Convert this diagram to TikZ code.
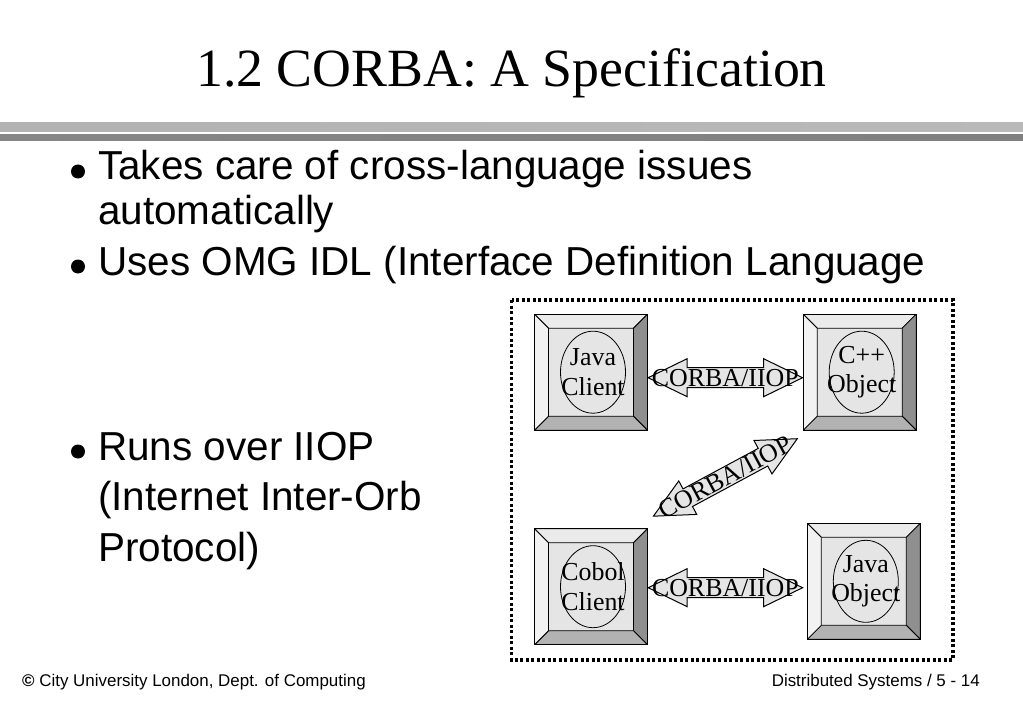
\documentclass[tikz,border=0pt]{standalone}
\usepackage{fontspec}
\setmainfont{Liberation Serif}
\setsansfont{Liberation Sans}
\usetikzlibrary{calc,shapes.geometric}
\definecolor{boxin}{gray}{0.9}
\definecolor{bevtop}{gray}{0.92}
\definecolor{bevleft}{gray}{0.95}
\definecolor{bevright}{gray}{0.56}
\definecolor{bevbot}{gray}{0.7}
\begin{document}
\begin{tikzpicture}[x=1bp,y=-1bp,
    title/.style={anchor=base,inner sep=0pt,font=\fontsize{54}{60}\selectfont},
    bullet/.style={circle,fill=black,inner sep=0pt,minimum size=14bp},
    point/.style={anchor=base west,inner sep=0pt,font=\sffamily\fontsize{40.6}{44}\selectfont},
    footer/.style={inner sep=0pt,font=\sffamily\fontsize{17}{20}\selectfont},
    frame/.style={line width=3.5bp,dash pattern=on 3bp off 2.5bp},
    bevel/.style={draw,fill=boxin,line width=.8bp,inner sep=0pt,minimum width=113bp,minimum height=116bp,
        path picture={
            \coordinate (p1) at (path picture bounding box.north west);
            \coordinate (p2) at (path picture bounding box.north east);
            \coordinate (p3) at (path picture bounding box.south east);
            \coordinate (p4) at (path picture bounding box.south west);
            \filldraw[fill=bevtop] (p1) -- (p2) -- ++(-14bp,-14bp) -- ($(p1)+(14bp,-14bp)$) -- cycle;
            \filldraw[fill=bevright] (p2) -- (p3) -- ++(-14bp,14bp) -- ($(p2)+(-14bp,-14bp)$) -- cycle;
            \filldraw[fill=bevbot] (p3) -- (p4) -- ++(14bp,14bp) -- ($(p3)+(-14bp,14bp)$) -- cycle;
            \filldraw[fill=bevleft] (p4) -- (p1) -- ++(14bp,-14bp) -- ($(p4)+(14bp,14bp)$) -- cycle;
        }},
    orb/.style={ellipse,draw,fill=boxin,line width=.8bp,inner sep=0pt,minimum width=65bp,minimum height=82bp},
    orbtext/.style={align=center,inner sep=0pt,font=\fontsize{26}{30}\selectfont},
    linktext/.style={inner sep=0pt,transform shape,font=\fontsize{26}{30}\selectfont},
    pics/link/.style={code={
        \draw[fill=boxin,line width=1bp] (-#1,0) -- ({-#1+39},-19) -- ({-#1+39},-10) -- ({#1-39},-10) -- ({#1-39},-19)
            -- (#1,0) -- ({#1-39},19) -- ({#1-39},10) -- ({-#1+39},10) -- ({-#1+39},19) -- cycle;
        \node[linktext] (-t) at (0,0) {CORBA/IIOP};
    }}]
    \useasboundingbox (0,0) rectangle (1023,708);
    \fill[white] (0,0) rectangle (1023,708);
    % heading
    \node[title] (title) at (511.5,87) {1.2 CORBA: A Specification};
    \shade[left color=gray!60,middle color=gray!18,right color=gray!55] (0,122.5) rectangle (1023,131.5);
    \shade[left color=gray!95,middle color=gray!30,right color=gray!100] (0,135) rectangle (1023,140.5);
    % bullet points
    \node[bullet] (b1) at (78,171.5) {};
    \node[point] (t1) at (98,180) {Takes care of cross-language issues};
    \node[point] (t1b) at (98,224) {automatically};
    \node[bullet] (b2) at (78,266.5) {};
    \node[point] (t2) at (98,275) {Uses OMG IDL (Interface Definition Language};
    \node[bullet] (b3) at (78,451.5) {};
    \node[point] (t3) at (98,460) {Runs over IIOP};
    \node[point] (t3b) at (98,510) {(Internet Inter-Orb};
    \node[point] (t3c) at (98,561) {Protocol)};
    % the ORB picture
    \draw[frame] (511.7,300) rectangle (953,660);
    \node[bevel] (jcbox) at (591,372.2) {};
    \node[orb] (jc) at ([xshift=2bp]jcbox.center) {};
    \node[orbtext] (jct) at (jc) {Java\\Client};
    \node[bevel] (cppbox) at (859.7,372.2) {};
    \node[orb] (cpp) at ([xshift=2bp]cppbox.center) {};
    \node[orbtext] (cppt) at (cpp) {C++\\Object};
    \node[bevel] (cobbox) at (591,586.7) {};
    \node[orb] (cob) at ([xshift=2bp]cobbox.center) {};
    \node[orbtext] (cobt) at (cob) {Cobol\\Client};
    \node[bevel] (jobox) at (863.8,581.3) {};
    \node[orb] (jo) at ([xshift=2bp]jobox.center) {};
    \node[orbtext] (jot) at (jo) {Java\\Object};
    \pic (l1) at ($(jcbox.east)!.5!(cppbox.west)+(0,5.5)$) {link=77.2};
    \pic[rotate=28.3] (l2) at ($(cobbox.north east)!.5!(cppbox.south west)+(0,-2)$) {link=81.7};
    \pic (l3) at ($(cobbox.east)!.5!(jobox.west)+(-2,3.7)$) {link=77.2};
    % footer
    \node[footer,anchor=base west] (left) at (22,686) {{\bfseries ©} City University London, Dept. of Computing};
    \node[footer,anchor=base east] (right) at (980,686) {Distributed Systems / 5 - 14};
\end{tikzpicture}
\end{document}
